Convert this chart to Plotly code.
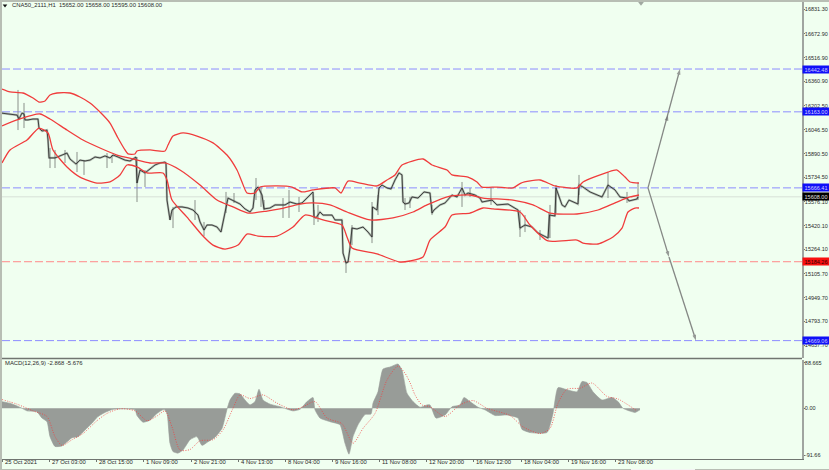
import plotly.graph_objects as go

BG = "#F0FFF0"
# bar position along the time axis
close_x = [1,8,17,19,22,24,25,28,33,38,39,42,47,48,49,55,60,64,67,70,76,80,85,90,95,100,105,110,113,118,125,130,135,136,137,140,145,150,155,160,165,166,167,170,172,176,182,188,193,198,200,204,207,212,217,221,223,226,228,232,236,240,245,250,253,255,258,262,264,270,275,280,285,290,297,302,307,313,314,316,320,323,332,335,342,343,346,348,350,352,357,363,368,372,372.5,377,379,382,387,391,395,399,402,403,405,409,412,418,424,430,432,434,440,445,452,457,462,465,468,475,480,482,492,497,508,518,520,525,532,538,548,549.5,555,556,562,565,569,578,579,583,590,602,608,615,620,627,629,637,638]
close_p = [16155,16149,16142,16116,16155,16149,16110,16110,16116,16116,16057,16038,16044,15979,15862,15862,15875,15881,15894,15855,15822,15848,15842,15848,15868,15862,15875,15862,15881,15868,15848,15842,15862,15868,15698,15783,15764,15790,15816,15829,15835,15829,15587,15457,15522,15542,15542,15535,15522,15489,15444,15391,15424,15424,15411,15378,15444,15522,15600,15587,15574,15561,15529,15509,15535,15653,15672,15620,15529,15535,15555,15555,15555,15574,15561,15568,15600,15640,15476,15470,15509,15489,15489,15457,15457,15241,15176,15182,15274,15404,15398,15411,15378,15346,15542,15522,15666,15685,15666,15659,15718,15764,15751,15574,15561,15568,15607,15600,15640,15633,15502,15522,15555,15568,15620,15607,15666,15620,15633,15620,15600,15574,15587,15555,15561,15522,15404,15424,15411,15372,15339,15489,15483,15666,15555,15542,15587,15561,15685,15672,15640,15607,15685,15653,15607,15600,15581,15594,15608]

wick_x = [18,24,50,55,65,77,84,107,112,137,145,173,195,204,226,234,256,261,264,283,289,299,314,318,346,352,372,378,405,410,432,462,470,491,520,525,540,549,550,556,579,608,627,638]
wick_h = [16306,16221,15927,15914,15914,15901,15848,15894,15881,15868,15783,15542,15587,15444,15640,15633,15731,15672,15587,15600,15653,15607,15522,15555,15182,15424,15574,15620,15600,15607,15555,15705,15666,15666,15522,15489,15391,15502,15555,15685,15751,15770,15640,15705]
wick_l = [16044,16057,15796,15796,15829,15770,15751,15796,15829,15574,15672,15404,15457,15352,15502,15568,15587,15542,15522,15470,15470,15509,15424,15444,15111,15293,15306,15489,15522,15535,15489,15542,15607,15555,15346,15378,15326,15339,15339,15502,15620,15600,15568,15587]

upper_x = [2,10,23,33,39,45,50,57,70,80,90,100,110,118,125,128,135,137,150,165,168,173,183,197,213,227,237,242,247,255,260,277,292,302,313,335,341,348,360,377,387,395,402,423,432,447,452,468,477,482,497,513,521,540,555,577,583,608,617,625,630,639]
upper_p = [16312,16293,16286,16253,16227,16234,16273,16286,16286,16260,16221,16162,16090,15992,15914,15888,15888,15907,15914,15907,15946,16005,16025,16005,15960,15881,15783,15705,15633,15633,15672,15679,15672,15640,15653,15666,15633,15711,15698,15679,15718,15751,15816,15855,15816,15783,15751,15737,15705,15672,15672,15666,15698,15718,15679,15666,15705,15770,15783,15737,15705,15698]

middle_x = [2,17,40,50,67,83,100,117,133,150,165,180,200,217,233,248,267,280,300,313,330,347,370,393,413,427,450,470,483,513,533,550,577,598,617,630,639]
middle_p = [16071,16110,16149,16116,16044,15979,15927,15881,15855,15829,15829,15783,15685,15587,15542,15502,15515,15529,15561,15568,15555,15509,15457,15470,15509,15555,15613,15620,15600,15587,15555,15502,15496,15522,15574,15607,15620]

lower_x = [2,10,27,39,48,53,67,80,97,110,120,127,137,147,163,167,172,187,202,213,225,238,247,258,277,293,305,323,342,347,352,377,400,410,423,430,445,452,470,483,493,520,530,548,577,583,598,613,622,628,635,639]
lower_p = [15829,15914,15979,16057,16025,15914,15803,15737,15698,15705,15751,15816,15803,15764,15764,15718,15587,15476,15359,15293,15267,15293,15365,15352,15352,15411,15489,15457,15424,15346,15274,15235,15182,15189,15215,15326,15411,15489,15502,15535,15529,15509,15424,15320,15326,15306,15300,15346,15404,15509,15535,15535]

macd_x = [2,10,17,22,27,37,42,47,50,55,62,67,72,78,85,92,98,105,113,125,135,137,143,150,157,164,167,170,173,178,183,190,197,202,208,215,222,227,230,235,240,245,250,255,259,263,270,280,293,300,307,313,315,320,330,340,345,349,353,358,365,371,373,378,383,390,398,402,407,413,420,427,430,436,445,452,460,464,470,478,485,495,507,518,522,530,547,553,558,567,577,582,587,593,602,612,618,623,635,640]
macd_v = [12.9,9.7,4.5,0,-5,-7,-19,-26,-55,-74,-73,-65,-57,-55,-42,-29,-16,-8,-2,-1,-3,-14,-27,-23,-10,-2,-10,-68,-84,-87,-81,-61,-55,-72,-65,-56,-39,-2,16,29,28,16,6.5,13,37,16,8,3,-5,-2,13,21,-3,-19,-26,-32,-68,-89,-55,-32,-12,-11,10,32,76,80,86,74,29,13,2,6.5,6.5,-19,-13,3,6.5,21,13,2,-3,-14,-13,-19,-41,-47,-47,-10,40,36,32,52,50,32,16,21,13,0,-8,-3]

signal_x = [2,17,33,47,55,62,72,83,97,107,120,135,147,157,165,172,180,190,200,213,223,233,240,250,263,277,293,303,315,327,342,353,363,375,387,398,405,410,415,422,430,445,460,473,487,510,523,540,550,558,567,580,592,607,618,637]
signal_v = [17,8,-5,-16,-55,-72,-61,-49,-24,-10,-1,-5,-24,-15,-5,-36,-81,-80,-63,-61,-42,0,26,19,26,10,-3,3,13,-19,-30,-68,-39,-10,55,82,68,50,26,6.5,3,-16,6.5,15,0,-14,-36,-49,-39,10,37,39,49,23,18,-5]

up_x = [648,668,680]
up_p = [15666.41,16142,16442.48]
down_x = [648,669,696]
down_p = [15666.41,15215,14669.06]

level_vals = [16442.48,16163.00,15666.41,15184.26,14669.06]
level_cols = ["#8C8CFF","#8C8CFF","#8C8CFF","#FF8888","#8C8CFF"]
label_bgs = ["#1010F8","#1010F8","#1010F8","#F81010","#1010F8"]
label_fgs = ["#C8C8FF","#D8D8FF","#D0D0FF","#300000","#C8C8FF"]
last_price = 15608.00

price_ticks = [16831.30,16672.90,16516.90,16360.90,16202.50,16046.50,15890.50,15734.50,15576.10,15420.10,15264.10,15105.70,14949.70,14793.70,14637.70]
macd_ticks = [88.665,0.0,-91.66]
macd_tick_text = ["88.665","0.00","-91.66"]
time_ticks = [2,49,96,143,191,238,285,332,379,426,473,521,568,615]
time_labels = ["25 Oct 2021","27 Oct 03:00","28 Oct 15:00","1 Nov 09:00","2 Nov 21:00","4 Nov 13:00","8 Nov 04:00","9 Nov 16:00","11 Nov 08:00","12 Nov 20:00","16 Nov 12:00","18 Nov 04:00","19 Nov 16:00","23 Nov 08:00"]

FS = 5.9
YFS = 5.5
FONT = "Liberation Sans"
TXT = "#2A2A2A"
fig = go.Figure()

# MACD pane
fig.add_trace(go.Scatter(x=macd_x, y=macd_v, mode="lines", yaxis="y2", fill="tozeroy",
                         fillcolor="#989C98", line=dict(color="#989C98", width=0.6, shape="spline", smoothing=0.5)))
fig.add_trace(go.Scatter(x=signal_x, y=signal_v, mode="lines", yaxis="y2",
                         line=dict(color="#F04040", width=0.8, dash="1px,1.5px", shape="spline", smoothing=0.7)))

# level lines
fig.add_trace(go.Scatter(x=[2,802], y=[last_price,last_price], mode="lines",
                         line=dict(color="#D0D8D0", width=0.8)))
for v, c in zip(level_vals, level_cols):
    fig.add_trace(go.Scatter(x=[2,802], y=[v,v], mode="lines",
                             line=dict(color=c, width=1, dash="8px,3px")))

# price
wx, wy = [], []
for x, h, l in zip(wick_x, wick_h, wick_l):
    wx += [x, x, None]
    wy += [h, l, None]
fig.add_trace(go.Scatter(x=wx, y=wy, mode="lines", line=dict(color="#8A908A", width=1)))
fig.add_trace(go.Scatter(x=close_x, y=close_p, mode="lines", line=dict(color="rgba(120,125,120,0.5)", width=2.2)))
fig.add_trace(go.Scatter(x=close_x, y=close_p, mode="lines", line=dict(color="#222222", width=0.8)))

# bands
for bx, bp in ((upper_x, upper_p), (middle_x, middle_p), (lower_x, lower_p)):
    fig.add_trace(go.Scatter(x=bx, y=bp, mode="lines",
                             line=dict(color="#F03C3C", width=1.3, shape="spline", smoothing=0.6)))

# arrows
for ax, ap in ((up_x, up_p), (down_x, down_p)):
    fig.add_trace(go.Scatter(x=ax, y=ap, mode="lines+markers",
                             line=dict(color="#858885", width=1.3),
                             marker=dict(symbol="arrow", size=[0,6,6], angleref="previous",
                                         color="#707070", line=dict(width=0))))

# shift marker on top of the chart
fig.add_trace(go.Scatter(x=[641], y=[16872], mode="markers",
                         marker=dict(symbol="triangle-down", size=5, color="#A0A8A0")))
fig.add_trace(go.Scatter(x=[5], y=[16857], mode="markers",
                         marker=dict(symbol="triangle-down", size=4, color="#111111")))

annotations = [
    dict(x=8/800, y=1-3/457, xref="paper", yref="paper", xanchor="left", yanchor="middle", showarrow=False,
         text="CNA50_2111,H1  15652.00 15658.00 15595.00 15608.00", font=dict(size=FS, color=TXT, family=FONT)),
    dict(x=1/800, y=88, xref="paper", yref="y2", xanchor="left", yanchor="middle", showarrow=False,
         text="MACD(12,26,9) -2.868 -5.676", font=dict(size=FS, color=TXT, family=FONT)),
]
for v, bg, fg in zip(level_vals, label_bgs, label_fgs):
    annotations.append(dict(x=1.0, y=v, xref="paper", yref="y", xanchor="left", yanchor="middle", showarrow=False,
                            text=f"{v:.2f}", bgcolor=bg, borderpad=0, width=26, height=7, align="center",
                            font=dict(size=YFS, color=fg, family=FONT)))
annotations.append(dict(x=1.0, y=last_price, xref="paper", yref="y", xanchor="left", yanchor="middle", showarrow=False,
                        text=f"{last_price:.2f}", bgcolor="#000000", borderpad=0, width=26, height=7, align="center",
                        font=dict(size=YFS, color="#E0E0E0", family=FONT)))

AX = "#A0A5A0"
shapes = [
    dict(type="rect", xref="paper", yref="paper", x0=-2/800, x1=0, y0=-11/457, y1=1+2/457,
         fillcolor="#B8BEB4", line=dict(width=0), layer="above"),
    dict(type="rect", xref="paper", yref="paper", x0=-2/800, x1=827/800, y0=1, y1=1+2/457,
         fillcolor="#B8BEB4", line=dict(width=0), layer="above"),
    dict(type="rect", xref="paper", yref="paper", x0=-2/800, x1=827/800, y0=-11/457, y1=-10/457,
         fillcolor="#B8BEB4", line=dict(width=0), layer="above"),
    dict(type="rect", xref="paper", yref="paper", x0=629/800, x1=693/800, y0=-11/457, y1=-10/457,
         fillcolor="#F4F4F4", line=dict(width=0), layer="above"),
    dict(type="line", xref="paper", yref="paper", x0=0, x1=1, y0=(459-358.5)/457, y1=(459-358.5)/457,
         line=dict(color="#707570", width=1.4), layer="above"),
]

fig.update_layout(
    width=829, height=470, showlegend=False,
    margin=dict(l=2, r=27, t=2, b=11, pad=0),
    paper_bgcolor=BG, plot_bgcolor=BG,
    font=dict(family=FONT, size=FS, color=TXT),
    annotations=annotations, shapes=shapes,
    xaxis=dict(range=[2,802], anchor="y2", tickmode="array", tickvals=time_ticks, ticktext=time_labels,
               ticks="outside", ticklen=2, tickwidth=1, tickcolor="#707570", showgrid=False, zeroline=False,
               showline=True, linecolor="#707570", linewidth=1, ticklabelposition="outside right", ticklabelstandoff=-3,
               ticklabelshift=2, tickfont=dict(size=FS, family=FONT, color=TXT), automargin=False),
    yaxis=dict(domain=[(459-358)/457,1], range=[14555.6,16880.2], side="right", anchor="x",
               tickmode="array", tickvals=price_ticks, ticktext=[f"{t:.2f}" for t in price_ticks],
               ticks="outside", ticklen=1, tickwidth=1, tickcolor="#707570", showgrid=False, zeroline=False,
               showline=True, linecolor=AX, linewidth=1.5, ticklabelstandoff=-1,
               tickfont=dict(size=YFS, family=FONT, color=TXT), automargin=False),
    yaxis2=dict(domain=[0,99/457], range=[-98.4,93.7], side="right", anchor="x",
                tickmode="array", tickvals=macd_ticks, ticktext=macd_tick_text,
                ticks="outside", ticklen=1, tickwidth=1, tickcolor="#707570", showgrid=False, zeroline=False,
                showline=True, linecolor=AX, linewidth=1.5, ticklabelstandoff=-1,
                tickfont=dict(size=YFS, family=FONT, color=TXT), automargin=False),
)

fig.write_html("out.html", post_script="document.body.style.margin='0';", config={"displayModeBar": False})
